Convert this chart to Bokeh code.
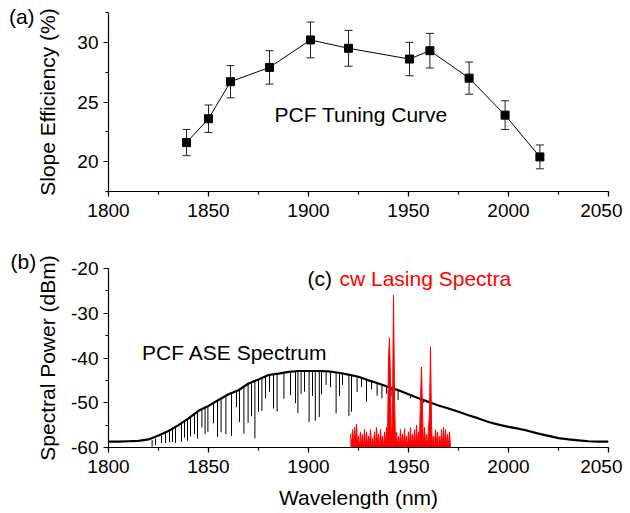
from bokeh.plotting import figure
from bokeh.layouts import column
from bokeh.models import (ColumnDataSource, Whisker, TeeHead, Label, Range1d,
                          SingleIntervalTicker, PrintfTickFormatter)
from bokeh.embed import file_html
from bokeh.resources import INLINE

FONT = "Liberation Sans"

# ---------------- (a) PCF tuning curve ----------------
tune_wl = [1839, 1850, 1861, 1880.5, 1901, 1920, 1950.5, 1960.7, 1980.3, 1998.3, 2015.7]
tune_eff = [21.6, 23.6, 26.7, 27.9, 30.2, 29.5, 28.6, 29.3, 27.0, 23.9, 20.4]
tune_err = [1.1, 1.15, 1.35, 1.4, 1.5, 1.5, 1.4, 1.45, 1.35, 1.2, 1.0]

# ---------------- (b) PCF ASE spectrum (envelope, 5 nm steps) ----------------
ase_wl = [1800, 1805, 1810, 1815, 1820, 1825, 1830, 1835, 1840, 1845,
          1850, 1855, 1860, 1865, 1870, 1875, 1880, 1885, 1890, 1895,
          1900, 1905, 1910, 1915, 1920, 1925, 1930, 1935, 1940, 1945,
          1950, 1955, 1960, 1965, 1970, 1975, 1980, 1985, 1990, 1995,
          2000, 2005, 2010, 2015, 2020, 2025, 2030, 2035, 2040, 2045, 2050]
ase_db = [-58.7, -58.7, -58.6, -58.5, -58.2, -57.3, -56.3, -55.0, -53.5, -51.8,
          -50.7, -49.4, -48.1, -47.2, -45.7, -44.8, -43.8, -43.5, -43.1, -42.9,
          -42.9, -42.9, -43.0, -43.3, -43.7, -44.2, -45.0, -45.7, -46.5, -47.2,
          -48.1, -49.0, -49.8, -50.6, -51.3, -52.0, -52.8, -53.5, -54.3, -54.9,
          -55.4, -55.8, -56.3, -56.9, -57.4, -57.9, -58.2, -58.4, -58.6, -58.7, -58.7]

# absorption dips in the ASE spectrum: wavelength, level above the dip, bottom of the dip
dip_wl = [1821.8, 1823.5, 1826.5, 1828.5, 1830.5, 1832.0, 1833.5, 1836.5, 1838.0, 1839.5,
          1841.0, 1843.0, 1844.5, 1846.7, 1848.3, 1849.7, 1852.5, 1854.5, 1856.3, 1858.7,
          1861.5, 1864.0, 1865.5, 1867.7, 1869.8, 1871.5, 1873.2, 1875.0, 1876.7, 1878.5,
          1880.5, 1882.5, 1884.3, 1887.7, 1891.0, 1893.5, 1894.7, 1896.3, 1898.0, 1900.3,
          1902.0, 1903.4, 1905.4, 1906.5, 1908.8, 1911.0, 1913.8, 1915.5, 1917.0, 1920.2,
          1921.5, 1924.3, 1926.5, 1929.0, 1931.5, 1934.3, 1936.7, 1939.0, 1941.3, 1944.8,
          1951.0, 1957.5]
dip_top = [-58.3, -58.0, -57.3, -56.8, -56.2, -55.8, -55.4, -54.7, -54.1, -53.7,
           -53.2, -52.5, -52.0, -51.5, -51.1, -50.8, -50.2, -49.6, -49.1, -48.5,
           -47.8, -47.4, -47.0, -46.4, -45.8, -45.5, -45.2, -44.8, -44.5, -44.1,
           -43.8, -43.7, -43.6, -43.3, -43.1, -43.0, -43.0, -42.9, -42.9, -42.9,
           -42.9, -42.9, -42.9, -42.9, -43.0, -43.1, -43.2, -43.3, -43.5, -43.7,
           -43.8, -44.1, -44.4, -44.8, -45.2, -45.6, -46.0, -46.3, -46.7, -47.2,
           -48.2, -49.4]
dip_bot = [-59.8, -59.5, -59.0, -59.0, -58.8, -58.8, -59.0, -58.7, -57.8, -58.5,
           -57.5, -57.0, -58.0, -55.5, -57.0, -56.5, -54.6, -57.6, -56.6, -57.0,
           -57.4, -51.0, -54.3, -56.9, -54.5, -53.0, -58.0, -52.0, -51.8, -49.0,
           -47.5, -51.3, -52.0, -49.1, -48.3, -50.1, -52.3, -48.0, -47.5, -54.3,
           -48.5, -54.0, -53.2, -48.1, -46.0, -46.5, -52.4, -48.5, -46.0, -53.0,
           -52.0, -47.6, -46.5, -49.8, -47.0, -48.4, -49.0, -48.0, -48.5, -49.4,
           -49.0, -50.0]

# ---------------- (c) cw lasing spectra (0.5 nm samples from 1921 nm) ----------------
red_start = 1921.0
red_step = 0.5
red_floor = -60.0
red_db = [-57.0, -60.0, -56.0, -59.5, -55.5, -59.0, -54.8, -59.5, -57.5, -60.0,
          -56.5, -59.5, -57.0, -60.0, -56.0, -59.5, -56.5, -60.0, -57.5, -59.0,
          -56.0, -60.0, -58.0, -59.5, -56.5, -60.0, -55.5, -59.5, -57.0, -60.0,
          -56.0, -59.5, -57.5, -60.0, -56.5, -59.5, -55.5, -58.0, -40.0, -35.5,
          -45.0, -60.0, -52.0, -26.0, -48.0, -60.0, -56.5, -59.5, -57.5, -60.0,
          -56.0, -59.5, -57.0, -60.0, -55.8, -59.5, -57.5, -60.0, -56.5, -59.5,
          -55.5, -60.0, -57.0, -59.5, -56.0, -60.0, -55.0, -59.5, -56.5, -58.0,
          -49.0, -42.0, -52.0, -60.0, -55.5, -59.5, -57.0, -60.0, -56.0, -52.0,
          -37.5, -55.0, -59.5, -57.5, -60.0, -56.0, -59.5, -56.5, -60.0, -57.5,
          -59.5, -56.0, -60.0, -55.5, -59.5, -56.0, -60.0, -57.0, -59.5, -56.5,
          -60.0]
red_wl = [red_start + red_step * i for i in range(len(red_db))]


def style(p):
    p.outline_line_color = None
    p.xgrid.visible = False
    p.ygrid.visible = False
    p.background_fill_color = "white"
    p.border_fill_color = "white"
    for ax in (p.xaxis[0], p.yaxis[0]):
        ax.axis_line_color = "black"
        ax.axis_line_width = 1.2
        ax.major_tick_line_color = "black"
        ax.minor_tick_line_color = "black"
        ax.major_tick_line_width = 1.2
        ax.minor_tick_line_width = 1.2
        ax.major_tick_in = 0
        ax.major_tick_out = 5
        ax.minor_tick_in = 0
        ax.minor_tick_out = 3
        ax.major_label_text_font = FONT
        ax.major_label_text_font_size = "19px"
        ax.major_label_text_color = "black"
        ax.axis_label_text_font = FONT
        ax.axis_label_text_font_size = "21px"
        ax.axis_label_text_font_style = "normal"
        ax.axis_label_text_color = "black"
        ax.formatter = PrintfTickFormatter(format="%d")
    p.xaxis.major_label_standoff = 7
    p.yaxis.major_label_standoff = 5


# ---------------- top figure ----------------
p1 = figure(width=622, height=250, x_range=Range1d(1800, 2050), y_range=Range1d(17.5, 32.5),
            output_backend="svg", toolbar_location=None,
            min_border_left=108, min_border_right=14, min_border_top=12, min_border_bottom=59)
style(p1)
p1.xaxis.ticker = SingleIntervalTicker(interval=50, num_minor_ticks=2)
p1.yaxis.ticker = SingleIntervalTicker(interval=5, num_minor_ticks=2)
p1.yaxis.axis_label = "Slope Efficiency (%)"
p1.yaxis.axis_label_standoff = 15

err_src = ColumnDataSource(dict(
    x=tune_wl,
    upper=[e + d for e, d in zip(tune_eff, tune_err)],
    lower=[e - d for e, d in zip(tune_eff, tune_err)],
))
p1.line(tune_wl, tune_eff, line_color="black", line_width=1)
whisk = Whisker(base="x", upper="upper", lower="lower", source=err_src,
                line_color="#222222", line_width=1,
                upper_head=TeeHead(size=8, line_color="#222222", line_width=1),
                lower_head=TeeHead(size=8, line_color="#222222", line_width=1))
p1.add_layout(whisk)
p1.scatter(tune_wl, tune_eff, marker="square", size=8, fill_color="black", line_color="black")

p1.add_layout(Label(x=1883, y=23.0, text="PCF Tuning Curve", text_font=FONT,
                    text_font_size="21px", text_color="black"))
# panel tag, in the left border panel so that it is not clipped to the frame
p1.add_layout(Label(x=1750.2, y=31.2, text="(a)",
                    text_font=FONT, text_font_size="21px", text_color="black"), "left")

# ---------------- bottom figure ----------------
p2 = figure(width=622, height=261, x_range=Range1d(1800, 2050), y_range=Range1d(-60, -20),
            output_backend="svg", toolbar_location=None,
            min_border_left=108, min_border_right=14, min_border_top=18, min_border_bottom=64)
style(p2)
p2.xaxis.ticker = SingleIntervalTicker(interval=50, num_minor_ticks=2)
p2.yaxis.ticker = SingleIntervalTicker(interval=10, num_minor_ticks=2)
p2.yaxis.axis_label = "Spectral Power (dBm)"
p2.yaxis.axis_label_standoff = 9
p2.xaxis.axis_label = "Wavelength (nm)"
p2.xaxis.axis_label_standoff = 10

p2.line(ase_wl, ase_db, line_color="black", line_width=2.2)
p2.segment(x0=dip_wl, y0=dip_top, x1=dip_wl, y1=dip_bot, line_color="black", line_width=1)
p2.varea(x=red_wl, y1=red_floor, y2=red_db, fill_color="#ff0000")
p2.line(red_wl, red_db, line_color="#ff0000", line_width=1)

p2.add_layout(Label(x=1816.8, y=-41.4, text="PCF ASE Spectrum", text_font=FONT,
                    text_font_size="21px", text_color="black"))
p2.add_layout(Label(x=1751, y=-21.0, text="(b)",
                    text_font=FONT, text_font_size="21px", text_color="black"), "left")
p2.add_layout(Label(x=1899.5, y=-24.7, text="(c)", text_font=FONT,
                    text_font_size="21px", text_color="black"))
p2.add_layout(Label(x=1915.5, y=-24.7, text="cw Lasing Spectra", text_font=FONT,
                    text_font_size="21px", text_color="#ff0000"))

layout = column(p1, p2, spacing=0)
open("out.html", "w").write(file_html(layout, INLINE))
